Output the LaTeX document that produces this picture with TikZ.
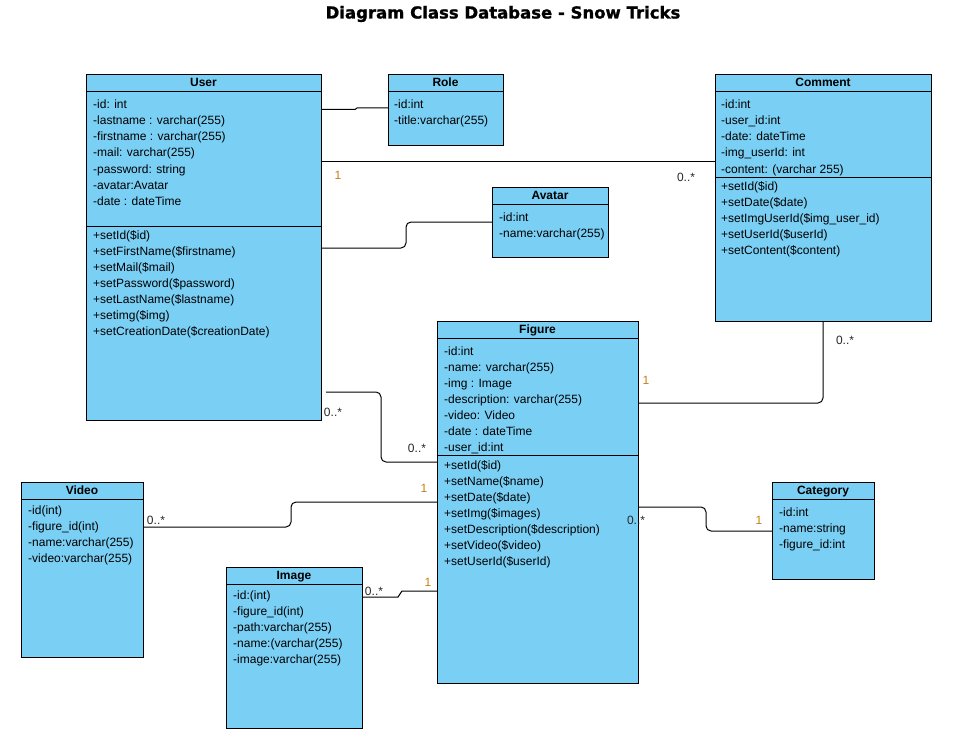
\documentclass[tikz,border=0pt]{standalone}
\usepackage{fontspec}
\setmainfont{Liberation Sans}
\newfontfamily\titlefont[BoldFeatures={FakeBold=1.2}]{DejaVu Sans}
\usetikzlibrary{calc}
\definecolor{clsfill}{RGB}{122,207,245}
\definecolor{multone}{RGB}{196,128,20}
\newcommand\clines[4]{\foreach \t [count=\i from 0] in {#4} {\node[txt] (#1-\i) at (#2,{#3+16*\i}) {\t};}}
\begin{document}
\begin{tikzpicture}[x=1pt,y=-1pt,
  classbox/.style={draw=black, fill=clsfill, line width=1pt, anchor=north west, inner sep=0pt, outer sep=0pt},
  headtxt/.style={anchor=base, inner sep=0pt, font=\fontsize{12}{14}\selectfont\bfseries},
  txt/.style={anchor=base west, inner sep=0pt, font=\fontsize{12}{14}\selectfont},
  sepline/.style={draw=black, line width=1pt},
  conn/.style={draw=black, line width=1pt, rounded corners=5pt},
  mult/.style={inner sep=0pt, font=\fontsize{12}{14}\selectfont, text=black!85},
  multo/.style={mult, text=multone}]
\useasboundingbox (0,0) rectangle (969,741);

% title
\node[font=\titlefont\bfseries\fontsize{16.5}{19}\selectfont, inner sep=0pt] (title) at (503,14) {Diagram Class Database - Snow Tricks};

% User
\node[classbox, minimum width=235pt, minimum height=345pt] (user) at (86,75) {};
\node[headtxt] (user-t) at (203.5,87) {User};
\draw[sepline] (86,92) -- (321,92);
\draw[sepline] (86,226) -- (321,226);
\clines{usera}{93}{109}{-id: int, -lastname : varchar(255), -firstname : varchar(255), -mail: varchar(255), -password: string, -avatar:Avatar, -date : dateTime}
\clines{userm}{93}{239}{+setId(\$id), +setFirstName(\$firstname), +setMail(\$mail), +setPassword(\$password), +setLastName(\$lastname), +setimg(\$img), +setCreationDate(\$creationDate)}

% Role
\node[classbox, minimum width=115pt, minimum height=71pt] (role) at (388,75) {};
\node[headtxt] (role-t) at (445.5,87) {Role};
\draw[sepline] (388,92) -- (503,92);
\clines{rolea}{394}{109}{-id:int, -title:varchar(255)}

% Comment
\node[classbox, minimum width=216pt, minimum height=246pt] (comment) at (715,75) {};
\node[headtxt] (comment-t) at (823,87) {Comment};
\draw[sepline] (715,92) -- (931,92);
\draw[sepline] (715,177) -- (931,177);
\clines{commenta}{721}{109}{-id:int, -user\_id:int, -date: dateTime, -img\_userId: int, -content: (varchar 255)}
\clines{commentm}{721}{190}{+setId(\$id), +setDate(\$date), +setImgUserId(\$img\_user\_id), +setUserId(\$userId), +setContent(\$content)}

% Avatar
\node[classbox, minimum width=116pt, minimum height=70pt] (avatar) at (492,187) {};
\node[headtxt] (avatar-t) at (550,199) {Avatar};
\draw[sepline] (492,204) -- (608,204);
\clines{avatara}{499}{221}{-id:int, -name:varchar(255)}

% Figure
\node[classbox, minimum width=201pt, minimum height=362pt] (figure) at (437,321) {};
\node[headtxt] (figure-t) at (537.5,333) {Figure};
\draw[sepline] (437,338) -- (638,338);
\draw[sepline] (437,455) -- (638,455);
\clines{figurea}{444}{355}{-id:int, -name: varchar(255), -img : Image, -description: varchar(255), -video: Video, -date : dateTime, -user\_id:int}
\clines{figurem}{444}{469}{+setId(\$id), +setName(\$name), +setDate(\$date), +setImg(\$images), +setDescription(\$description), +setVideo(\$video), +setUserId(\$userId)}

% Video
\node[classbox, minimum width=122pt, minimum height=175pt] (video) at (21,482) {};
\node[headtxt] (video-t) at (82,494) {Video};
\draw[sepline] (21,499) -- (143,499);
\clines{videoa}{28}{514}{-id(int), -figure\_id(int), -name:varchar(255), -video:varchar(255)}

% Image
\node[classbox, minimum width=136pt, minimum height=161pt] (image) at (226,567) {};
\node[headtxt] (image-t) at (294,579) {Image};
\draw[sepline] (226,584) -- (362,584);
\clines{imagea}{233}{599}{-id:(int), -figure\_id(int), -path:varchar(255), -name:(varchar(255), -image:varchar(255)}

% Category
\node[classbox, minimum width=102pt, minimum height=97pt] (category) at (772,482) {};
\node[headtxt] (category-t) at (823,494) {Category};
\draw[sepline] (772,499) -- (874,499);
\clines{categorya}{779}{516}{-id:int, -name:string, -figure\_id:int}

% connectors
\draw[conn, sharp corners] (user.east |- 0,109.5) -- (355,109.5) -- (357,108) -- (role.west |- 0,108);

\draw[conn] (user.east |- 0,161) -- (comment.west |- 0,161);
\node[multo] (m1) at (338,175) {1};
\node[mult] (m2) at (686,177) {0..*};

\draw[conn] (user.east |- 0,248) -- (406,248) -- (406,222) -- (avatar.west |- 0,222);

\coordinate (ufs) at (326,392);
\draw[conn] (ufs) -- (381,392) -- (381,462) -- (figure.west |- 0,462);
\node[mult] (m3) at (333,412) {0..*};
\node[mult] (m4) at (417,448) {0..*};

\draw[conn] (figure.east |- 0,403) -- (823,403) -- (comment.south);
\node[multo] (m5) at (646,380) {1};
\node[mult] (m6) at (845,340) {0..*};

\draw[conn] (video.east |- 0,527) -- (291,527) -- (291,502) -- (figure.west |- 0,502);
\node[mult] (m7) at (156,520) {0..*};
\node[multo] (m8) at (424,488) {1};

\draw[conn, sharp corners] (image.east |- 0,597) -- (398,597) -- (402,591) -- (figure.west |- 0,591);
\node[mult] (m9) at (374,591) {0..*};
\node[multo] (m10) at (428,582) {1};

\draw[conn] (figure.east |- 0,507) -- (706,507) -- (706,531) -- (category.west |- 0,531);
\node[mult] (m11) at (636,520) {0..*};
\node[multo] (m12) at (759,520) {1};
\end{tikzpicture}
\end{document}
